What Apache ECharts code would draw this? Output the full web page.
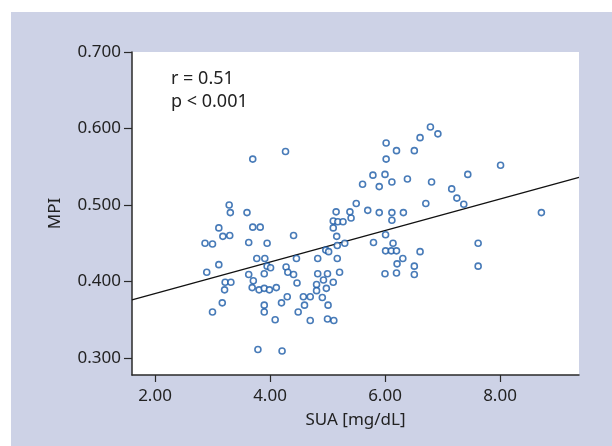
<!DOCTYPE html>
<html>
<head>
<meta charset="utf-8">
<script src="https://cdn.jsdelivr.net/npm/echarts@6/dist/echarts.min.js"></script>
<style>
    html, body { margin: 0; padding: 0; background: #ffffff; }
    #chart { width: 612px; height: 446px; }
</style>
</head>
<body>
<div id="chart"></div>
<script>
// serum uric acid (x) and MPI (y)
var sua = [2.87, 3.00, 2.90, 3.11, 3.11, 3.18, 3.30, 3.22, 3.32, 3.21,
    3.17, 3.00, 3.29, 3.31, 3.60, 3.70, 4.27, 3.70, 3.83, 3.63,
    3.95, 4.41, 3.77, 3.91, 4.46, 3.95, 4.01, 4.28, 3.63, 3.90,
    4.31, 4.41, 3.71, 4.47, 3.69, 3.81, 3.90, 3.99, 4.11, 4.30,
    4.20, 3.90, 3.90, 4.49, 4.09, 3.79, 4.21, 4.58, 4.70, 4.60,
    4.70, 4.81, 4.81, 4.83, 4.83, 4.91, 4.93, 4.98, 5.00, 5.01,
    5.00, 5.11, 5.10, 5.21, 5.17, 4.97, 5.02, 5.17, 5.30, 5.16,
    5.10, 5.10, 5.18, 5.27, 5.41, 5.15, 5.39, 5.50, 5.70, 5.90,
    6.12, 6.12, 6.32, 5.61, 5.90, 6.12, 5.79, 6.00, 6.39, 6.02,
    6.02, 6.20, 6.51, 6.61, 6.79, 6.92, 6.81, 6.71, 7.16, 7.25,
    7.37, 7.44, 8.01, 8.72, 5.80, 6.01, 6.14, 6.01, 6.11, 6.20,
    6.31, 6.21, 6.00, 6.20, 6.51, 6.51, 6.61, 7.62, 7.62];
var mpi = [0.450, 0.449, 0.412, 0.422, 0.470, 0.459, 0.460, 0.399, 0.399, 0.389,
    0.372, 0.360, 0.500, 0.490, 0.490, 0.560, 0.570, 0.471, 0.471, 0.451,
    0.450, 0.460, 0.430, 0.430, 0.430, 0.420, 0.418, 0.419, 0.409, 0.410,
    0.412, 0.409, 0.401, 0.398, 0.392, 0.389, 0.391, 0.389, 0.392, 0.380,
    0.372, 0.369, 0.360, 0.360, 0.350, 0.311, 0.309, 0.380, 0.380, 0.369,
    0.349, 0.396, 0.388, 0.430, 0.410, 0.379, 0.402, 0.391, 0.410, 0.369,
    0.351, 0.349, 0.399, 0.412, 0.430, 0.441, 0.439, 0.447, 0.450, 0.459,
    0.470, 0.479, 0.478, 0.478, 0.483, 0.491, 0.491, 0.502, 0.493, 0.490,
    0.490, 0.480, 0.490, 0.527, 0.524, 0.530, 0.539, 0.540, 0.534, 0.560,
    0.581, 0.571, 0.571, 0.588, 0.602, 0.593, 0.530, 0.502, 0.521, 0.509,
    0.501, 0.540, 0.552, 0.490, 0.451, 0.461, 0.450, 0.440, 0.440, 0.440,
    0.430, 0.423, 0.410, 0.411, 0.420, 0.409, 0.439, 0.450, 0.420];

// regression line ends
var fitX = [1.6, 9.374];
var fitY = [0.376, 0.536];

var xTicks = [2, 4, 6, 8];
var yTicks = [0.3, 0.4, 0.5, 0.6, 0.7];
var statLines = ['r = 0.51', 'p < 0.001'];

var font = '"Noto Sans", "Open Sans", sans-serif';
var chart = echarts.init(document.getElementById('chart'));

var points = [];
for (var i = 0; i < sua.length; i++) {
    points.push([sua[i], mpi[i]]);
}
var fitData = [];
for (var j = 0; j < fitX.length; j++) {
    fitData.push([fitX[j], fitY[j]]);
}

var option = {
    backgroundColor: '#ffffff',
    animation: false,
    textStyle: { fontFamily: font },
    graphic: [
        {
            type: 'rect',
            z: -10,
            silent: true,
            shape: { x: 11, y: 12, width: 601, height: 434 },
            style: { fill: '#cdd2e6' }
        },
        {
            type: 'text',
            z: 10,
            left: 171,
            top: 67,
            style: {
                text: statLines.join('\n'),
                font: '18px ' + font,
                fill: '#222222',
                lineHeight: 23
            }
        }
    ],
    grid: {
        left: 132,
        top: 52,
        right: 33,
        bottom: 71,
        show: true,
        backgroundColor: '#ffffff',
        borderWidth: 0
    },
    xAxis: {
        type: 'value',
        min: 1.6,
        max: 9.374,
        name: 'SUA [mg/dL]',
        nameLocation: 'middle',
        nameGap: 37,
        nameTextStyle: { fontSize: 17, color: '#222222', fontFamily: font },
        splitLine: { show: false },
        axisLine: { show: true, onZero: false, lineStyle: { color: '#2a2a2a', width: 1.5 } },
        axisTick: { show: true, length: 7, customValues: xTicks, lineStyle: { color: '#2a2a2a', width: 1.2 } },
        axisLabel: {
            customValues: xTicks,
            margin: 13,
            fontSize: 17,
            color: '#222222',
            fontFamily: font,
            formatter: function (v) { return v.toFixed(2); }
        }
    },
    yAxis: {
        type: 'value',
        min: 0.2777,
        max: 0.7,
        name: 'MPI',
        nameLocation: 'middle',
        nameGap: 68,
        nameTextStyle: { fontSize: 17, color: '#222222', fontFamily: font },
        splitLine: { show: false },
        axisLine: { show: true, onZero: false, lineStyle: { color: '#2a2a2a', width: 1.5 } },
        axisTick: { show: true, length: 8, customValues: yTicks, lineStyle: { color: '#2a2a2a', width: 1.2 } },
        axisLabel: {
            customValues: yTicks,
            margin: 11,
            fontSize: 17,
            color: '#222222',
            fontFamily: font,
            formatter: function (v) { return v.toFixed(3); }
        }
    },
    series: [
        {
            name: 'fit',
            type: 'line',
            data: fitData,
            symbol: 'none',
            silent: true,
            z: 1,
            lineStyle: { color: '#111111', width: 1.3 }
        },
        {
            name: 'MPI',
            type: 'scatter',
            data: points,
            symbol: 'circle',
            symbolSize: 6,
            z: 2,
            itemStyle: {
                color: '#ffffff',
                borderColor: '#1a5aa6',
                borderWidth: 1.6
            }
        }
    ]
};
chart.setOption(option);
</script>
</body>
</html>
